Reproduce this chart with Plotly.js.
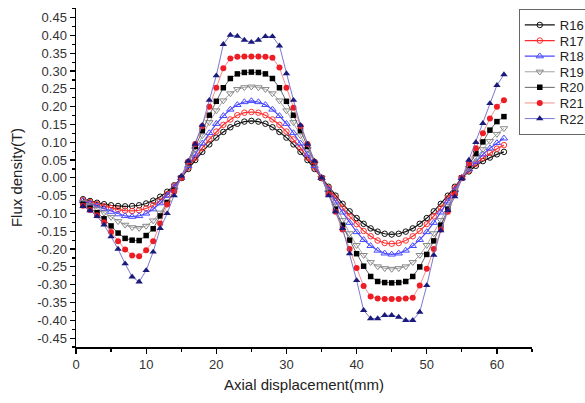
<!DOCTYPE html>
<html>
<head>
<meta charset="utf-8">
<script src="https://cdn.plot.ly/plotly-3.0.1.min.js"></script>
<style>html,body{margin:0;padding:0;background:#fff;}#chart{width:585px;height:403px;}</style>
</head>
<body>
<div id="chart"></div>
<script>
// Axial displacement (mm)
var xValues = [1,2,3,4,5,6,7,8,9,10,11,12,13,14,15,16,17,18,19,20,21,22,23,24,25,26,27,28,29,30,31,32,33,34,35,36,37,38,39,40,41,42,43,44,45,46,47,48,49,50,51,52,53,54,55,56,57,58,59,60,61];

var seriesNames = ["R16","R17","R18","R19","R20","R21","R22"];

var r16 = [-0.060,-0.065,-0.070,-0.074,-0.077,-0.079,-0.080,-0.079,-0.077,-0.072,-0.064,-0.053,-0.039,-0.021,0.000,
  0.025,0.050,0.073,0.094,0.113,0.129,0.142,0.152,0.158,0.160,0.158,0.152,0.142,0.129,0.113,0.094,0.073,0.050,0.025,0.000,
  -0.025,-0.050,-0.073,-0.094,-0.113,-0.129,-0.142,-0.151,-0.157,-0.159,-0.157,-0.151,-0.142,-0.129,-0.113,-0.094,-0.073,-0.050,-0.025,0.000,
  0.018,0.034,0.047,0.057,0.066,0.073];
var r17 = [-0.063,-0.068,-0.074,-0.080,-0.085,-0.089,-0.092,-0.093,-0.091,-0.086,-0.077,-0.064,-0.046,-0.024,0.000,
  0.029,0.057,0.084,0.108,0.130,0.149,0.164,0.176,0.183,0.185,0.183,0.176,0.164,0.149,0.130,0.108,0.084,0.057,0.029,0.000,
  -0.029,-0.057,-0.084,-0.108,-0.130,-0.149,-0.164,-0.176,-0.183,-0.185,-0.183,-0.176,-0.164,-0.149,-0.130,-0.108,-0.084,-0.057,-0.029,0.000,
  0.021,0.040,0.056,0.070,0.082,0.092];
var r18 = [-0.065,-0.072,-0.079,-0.087,-0.095,-0.102,-0.107,-0.109,-0.107,-0.100,-0.088,-0.071,-0.050,-0.026,0.000,
  0.034,0.066,0.097,0.126,0.152,0.174,0.192,0.205,0.213,0.216,0.213,0.205,0.192,0.174,0.152,0.126,0.097,0.066,0.034,0.000,
  -0.034,-0.066,-0.097,-0.126,-0.152,-0.174,-0.191,-0.204,-0.212,-0.215,-0.212,-0.204,-0.191,-0.174,-0.152,-0.126,-0.097,-0.066,-0.034,0.000,
  0.024,0.046,0.066,0.083,0.098,0.111];
var r19 = [-0.068,-0.077,-0.087,-0.098,-0.110,-0.122,-0.132,-0.139,-0.141,-0.135,-0.120,-0.098,-0.069,-0.035,0.000,
  0.040,0.080,0.119,0.156,0.189,0.217,0.237,0.249,0.254,0.256,0.254,0.249,0.237,0.217,0.189,0.156,0.119,0.080,0.040,0.000,
  -0.040,-0.080,-0.119,-0.156,-0.189,-0.217,-0.237,-0.249,-0.254,-0.256,-0.254,-0.249,-0.237,-0.217,-0.189,-0.156,-0.119,-0.080,-0.040,0.000,
  0.028,0.055,0.080,0.103,0.123,0.139];
var r20 = [-0.075,-0.085,-0.098,-0.115,-0.135,-0.155,-0.170,-0.175,-0.176,-0.162,-0.143,-0.107,-0.069,-0.035,0.000,
  0.043,0.088,0.133,0.176,0.215,0.253,0.279,0.292,0.296,0.297,0.296,0.292,0.279,0.253,0.215,0.176,0.133,0.088,0.043,0.000,
  -0.043,-0.088,-0.133,-0.175,-0.213,-0.248,-0.277,-0.291,-0.294,-0.295,-0.294,-0.291,-0.277,-0.250,-0.215,-0.177,-0.133,-0.088,-0.043,0.000,
  0.035,0.069,0.101,0.134,0.158,0.172];
var r21 = [-0.078,-0.090,-0.105,-0.125,-0.152,-0.178,-0.201,-0.218,-0.220,-0.203,-0.178,-0.128,-0.075,-0.038,0.000,
  0.045,0.095,0.145,0.200,0.253,0.308,0.335,0.340,0.341,0.341,0.341,0.340,0.337,0.310,0.253,0.197,0.145,0.095,0.045,0.000,
  -0.045,-0.095,-0.145,-0.200,-0.253,-0.304,-0.333,-0.339,-0.340,-0.340,-0.340,-0.339,-0.337,-0.302,-0.255,-0.200,-0.145,-0.095,-0.045,0.000,
  0.040,0.083,0.125,0.167,0.200,0.218];
var r22 = [-0.080,-0.092,-0.108,-0.132,-0.165,-0.200,-0.241,-0.278,-0.292,-0.260,-0.208,-0.142,-0.100,-0.050,0.005,
  0.047,0.095,0.148,0.218,0.287,0.375,0.401,0.398,0.387,0.381,0.387,0.397,0.397,0.371,0.293,0.218,0.148,0.095,0.047,0.000,
  -0.050,-0.095,-0.142,-0.213,-0.288,-0.372,-0.395,-0.395,-0.386,-0.386,-0.391,-0.400,-0.400,-0.377,-0.302,-0.217,-0.148,-0.091,-0.053,-0.002,
  0.050,0.100,0.153,0.209,0.260,0.290];

var yTickVals = [-0.45,-0.40,-0.35,-0.30,-0.25,-0.20,-0.15,-0.10,-0.05,0,0.05,0.10,0.15,0.20,0.25,0.30,0.35,0.40,0.45];
var yTickText = ["-0.45","-0.40","-0.35","-0.30","-0.25","-0.20","-0.15","-0.10","-0.05","0.00","0.05","0.10","0.15","0.20","0.25","0.30","0.35","0.40","0.45"];

var allSeries = [r16, r17, r18, r19, r20, r21, r22];
var styles = [
  {line:{color:'#111111', width:1.2}, marker:{symbol:'circle-open', color:'#111111', size:5.5, line:{width:1}}},
  {line:{color:'#ff2a2a', width:1.2}, marker:{symbol:'circle-open', color:'#ff3030', size:5.5, line:{width:1}}},
  {line:{color:'#4a4aff', width:1.2}, marker:{symbol:'triangle-up-open', color:'#4a4aff', size:6.5, line:{width:1}}},
  {line:{color:'#9a9a9a', width:0.9}, marker:{symbol:'triangle-down-open', color:'#888888', size:6.5, line:{width:1}}},
  {line:{color:'#555555', width:0.9}, marker:{symbol:'square', color:'#000000', size:5.5}},
  {line:{color:'#f08080', width:0.9}, marker:{symbol:'circle', color:'#ee1c24', size:6}},
  {line:{color:'#6a6acc', width:0.9}, marker:{symbol:'triangle-up', color:'#1a1a7a', size:6.5}}
];

var traces = allSeries.map(function(ys, i){
  return {
    x: xValues, y: ys, name: seriesNames[i], type: 'scatter', mode: 'lines+markers',
    line: styles[i].line, marker: styles[i].marker
  };
});

var layout = {
  width: 585, height: 403,
  margin: {l: 76, r: 53, t: 8, b: 56, autoexpand: false},
  paper_bgcolor: '#ffffff', plot_bgcolor: '#ffffff',
  font: {family: 'Arial, "Liberation Sans", sans-serif', color: '#222222', size: 12},
  showlegend: true,
  legend: {
    x: 0.971, xanchor: 'left', y: 0.997, yanchor: 'top',
    bgcolor: '#ffffff', bordercolor: '#666666', borderwidth: 1,
    font: {size: 13, color: '#222222'}, tracegroupgap: 0
  },
  xaxis: {
    range: [0, 65], tickmode: 'linear', tick0: 0, dtick: 10,
    showline: true, linecolor: '#000000', linewidth: 1.5, mirror: false,
    ticks: 'outside', ticklen: 5, tickwidth: 1.2, tickcolor: '#000000',
    minor: {dtick: 5, tick0: 0, ticks: 'outside', ticklen: 3, tickwidth: 1.2, tickcolor: '#000000'},
    showgrid: false, zeroline: false,
    tickfont: {size: 13, color: '#333333'},
    title: {text: 'Axial displacement(mm)', font: {size: 15, color: '#222222'}, standoff: 8}
  },
  yaxis: {
    range: [-0.475, 0.477], tickmode: 'array', tickvals: yTickVals, ticktext: yTickText,
    showline: true, linecolor: '#000000', linewidth: 1.5, mirror: false,
    ticks: 'outside', ticklen: 5, tickwidth: 1.2, tickcolor: '#000000',
    minor: {dtick: 0.025, tick0: 0, ticks: 'outside', ticklen: 3, tickwidth: 1.2, tickcolor: '#000000'},
    showgrid: false, zeroline: false,
    tickfont: {size: 13, color: '#333333'},
    title: {text: 'Flux density(T)', font: {size: 15, color: '#222222'}, standoff: 11}
  }
};

Plotly.newPlot('chart', traces, layout, {displayModeBar: false, staticPlot: true}).then(function(gd){
  // tighten legend row spacing to match the reference (~15.6px per entry)
  try {
    var items = gd.querySelectorAll('.legend .traces');
    if (!items.length) return;
    var parse = function(el){
      var m = /translate\(\s*([-\d.]+)[ ,]+([-\d.]+)\s*\)/.exec(el.getAttribute('transform') || '');
      return m ? [parseFloat(m[1]), parseFloat(m[2])] : null;
    };
    var first = parse(items[0]);
    var last = parse(items[items.length - 1]);
    if (!first || !last) return;
    var oldStep = items.length > 1 ? (last[1] - first[1]) / (items.length - 1) : 0;
    var step = 15.6;
    for (var i = 0; i < items.length; i++) {
      var p = parse(items[i]);
      if (p) items[i].setAttribute('transform', 'translate(' + p[0] + ',' + (first[1] + i * step) + ')');
    }
    var shrink = (oldStep - step) * (items.length - 1);
    var bg = gd.querySelector('.legend rect.bg');
    if (bg) {
      var h = parseFloat(bg.getAttribute('height'));
      bg.setAttribute('height', h - shrink);
    }
  } catch (e) {}
});
</script>
</body>
</html>
